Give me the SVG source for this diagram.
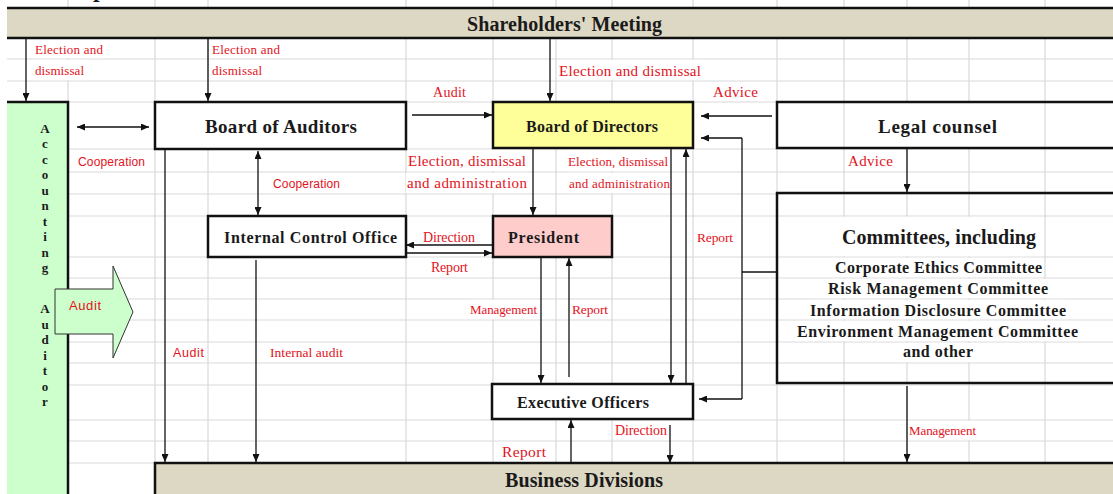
<svg xmlns="http://www.w3.org/2000/svg" width="1113" height="494" viewBox="0 0 1113 494">
  <style>
    .grid { stroke: #d9d9d9; stroke-width: 1.2; fill: none; }
    .cell { fill: #ffffff; }
    .box { stroke: #111111; stroke-width: 2.5; }
    .edge { stroke: #111111; stroke-width: 2.5; fill: none; }
    .node { font-family: "Liberation Serif", "DejaVu Serif", serif; font-weight: bold; fill: #1a1a1a; }
    .lbl { font-family: "Liberation Serif", "DejaVu Serif", serif; fill: #e3121c; }
    .lbls { font-family: "Liberation Sans", Arial, sans-serif; fill: #e3121c; }
    .conn { stroke: #111111; stroke-width: 1.3; fill: none; }
    .vert { font-family: "Liberation Serif", "DejaVu Serif", serif; font-weight: bold; font-size: 13px; fill: #1a1a1a; text-anchor: middle; }
  </style>
  <defs>
    <marker id="ah" markerUnits="userSpaceOnUse" markerWidth="8" markerHeight="7" refX="8" refY="3.5" orient="auto-start-reverse">
      <path d="M0,0 L8,3.5 L0,7 z" fill="#111111"/>
    </marker>
  </defs>

  <rect width="1113" height="494" fill="#ffffff"/>

  <!-- worksheet grid -->
  <path class="grid" d="M68,0V494 M155,0V494 M208,0V494 M406,0V494 M493,0V494 M556,0V494 M612,0V494 M693,0V494 M777,0V494 M844,0V494 M907,0V494 M969,0V494 M1045,0V494
    M7,59H1113 M7,81H1113 M7,102H1113 M7,149H1113 M7,172H1113 M7,194H1113 M7,216H1113 M7,257H1113 M7,278H1113 M7,299H1113 M7,320H1113 M7,342H1113 M7,363H1113 M7,385H1113 M7,420H1113 M7,441H1113 M7,463H1113"/>

  <!-- cells whose text runs over neighbouring cells hide the column lines -->
  <g class="cell">
    <rect x="34" y="38.8" width="70" height="19.4"/>
    <rect x="34" y="59.8" width="52" height="20.4"/>
    <rect x="558" y="59.8" width="144" height="20.4"/>
    <rect x="877" y="103" width="121" height="45"/>
    <rect x="407" y="149.8" width="121" height="21.4"/>
    <rect x="406" y="172.8" width="122" height="20.4"/>
    <rect x="567" y="149.8" width="103" height="21.4"/>
    <rect x="568" y="172.8" width="103" height="20.4"/>
    <rect x="841" y="216.8" width="196" height="39.4"/>
    <rect x="834" y="257.8" width="209" height="19.4"/>
    <rect x="827" y="278.8" width="222" height="19.4"/>
    <rect x="809" y="299.8" width="258" height="19.4"/>
    <rect x="796" y="320.8" width="283" height="20.4"/>
    <rect x="902" y="342.8" width="72" height="19.4"/>
    <rect x="469" y="299.8" width="69" height="19.4"/>
    <rect x="908" y="420.8" width="69" height="19.4"/>
  </g>

  <!-- title line cut off above the sheet -->
  <text class="node" x="93" y="-3" font-size="24">p</text>

  <!-- nodes -->
  <g id="shareholders-meeting">
    <rect x="7" y="8" width="1110" height="30" fill="#ddd8c4"/>
    <path class="edge" d="M7,8H1113 M7,38H1113"/>
    <text class="node" x="467" y="30.5" font-size="20" textLength="195">Shareholders' Meeting</text>
  </g>

  <g id="accounting-auditor">
    <rect x="7" y="102" width="61" height="392" fill="#ccffcc"/>
    <path class="edge" d="M7,102H68V494"/>
    <text class="vert" x="45" y="132.5">A</text>
    <text class="vert" x="45" y="148">c</text>
    <text class="vert" x="45" y="163.5">c</text>
    <text class="vert" x="45" y="179">o</text>
    <text class="vert" x="45" y="194.5">u</text>
    <text class="vert" x="45" y="210">n</text>
    <text class="vert" x="45" y="225.5">t</text>
    <text class="vert" x="45" y="241">i</text>
    <text class="vert" x="45" y="256.5">n</text>
    <text class="vert" x="45" y="272">g</text>
    <text class="vert" x="45" y="313">A</text>
    <text class="vert" x="45" y="328.5">u</text>
    <text class="vert" x="45" y="344">d</text>
    <text class="vert" x="45" y="359.5">i</text>
    <text class="vert" x="45" y="375">t</text>
    <text class="vert" x="45" y="390.5">o</text>
    <text class="vert" x="45" y="406">r</text>
  </g>

  <g id="audit-arrow">
    <polygon points="55,289 113,289 113,266 133,312 113,358 113,334 55,334" fill="#ccffcc" stroke="#333333" stroke-width="1"/>
    <text class="lbls" x="69" y="310" font-size="13" textLength="32">Audit</text>
  </g>

  <g id="board-of-auditors">
    <rect class="box" x="155" y="102" width="251" height="47" fill="#ffffff"/>
    <text class="node" x="205" y="133" font-size="19" textLength="152">Board of Auditors</text>
  </g>

  <g id="board-of-directors">
    <rect class="box" x="493" y="102" width="200" height="46" fill="#ffff99"/>
    <text class="node" x="526" y="132" font-size="16" textLength="132">Board of Directors</text>
  </g>

  <g id="legal-counsel">
    <rect class="box" x="777" y="102" width="340" height="46" fill="none"/>
    <text class="node" x="878" y="133" font-size="19" textLength="119">Legal counsel</text>
  </g>

  <g id="internal-control-office">
    <rect class="box" x="208" y="216" width="198" height="41" fill="#ffffff"/>
    <text class="node" x="224" y="242.5" font-size="16" textLength="173">Internal Control Office</text>
  </g>

  <g id="president">
    <rect class="box" x="493" y="216" width="119" height="41" fill="#ffcccc"/>
    <text class="node" x="508" y="242.5" font-size="16" textLength="71">President</text>
  </g>

  <g id="committees">
    <rect class="box" x="777" y="193" width="340" height="190" fill="none"/>
    <text class="node" x="842" y="244" font-size="20" textLength="194">Committees, including</text>
    <text class="node" x="835" y="273" font-size="16" textLength="207">Corporate Ethics Committee</text>
    <text class="node" x="828" y="294" font-size="16" textLength="220">Risk Management Committee</text>
    <text class="node" x="810" y="315.5" font-size="16" textLength="256">Information Disclosure Committee</text>
    <text class="node" x="797" y="337" font-size="16" textLength="281">Environment Management Committee</text>
    <text class="node" x="903" y="357" font-size="16" textLength="70">and other</text>
  </g>

  <g id="executive-officers">
    <rect class="box" x="492" y="384" width="201" height="35" fill="#ffffff"/>
    <text class="node" x="517" y="408" font-size="16" textLength="132">Executive Officers</text>
  </g>

  <g id="business-divisions">
    <rect class="box" x="155" y="463" width="962" height="36" fill="#ddd8c4"/>
    <text class="node" x="505" y="486.5" font-size="20" textLength="158">Business Divisions</text>
  </g>

  <!-- connectors -->
  <g id="connectors">
    <g class="conn">
      <line x1="26" y1="38" x2="26" y2="101" marker-end="url(#ah)"/>
      <line x1="208" y1="38" x2="208" y2="101" marker-end="url(#ah)"/>
      <line x1="550" y1="38" x2="550" y2="101" marker-end="url(#ah)"/>
      <line x1="77" y1="127" x2="149" y2="127" marker-start="url(#ah)" marker-end="url(#ah)"/>
      <line x1="412" y1="115" x2="492" y2="115" marker-end="url(#ah)"/>
      <line x1="772" y1="116" x2="701" y2="116" marker-end="url(#ah)"/>
      <path d="M777,272H742"/>
      <path d="M742,138V399"/>
      <line x1="742" y1="138" x2="701" y2="138" marker-end="url(#ah)"/>
      <line x1="742" y1="399" x2="699" y2="399" marker-end="url(#ah)"/>
      <line x1="907" y1="149" x2="907" y2="192" marker-end="url(#ah)"/>
      <line x1="165" y1="150" x2="165" y2="462" marker-end="url(#ah)"/>
      <line x1="258" y1="151" x2="258" y2="215" marker-start="url(#ah)" marker-end="url(#ah)"/>
      <line x1="256" y1="260" x2="256" y2="462" marker-end="url(#ah)"/>
      <line x1="533" y1="149" x2="533" y2="215" marker-end="url(#ah)"/>
      <line x1="671" y1="149" x2="671" y2="383" marker-end="url(#ah)"/>
      <line x1="686" y1="383" x2="686" y2="149" marker-end="url(#ah)"/>
      <line x1="493" y1="245" x2="406" y2="245" marker-end="url(#ah)"/>
      <line x1="406" y1="253" x2="492" y2="253" marker-end="url(#ah)"/>
      <line x1="541" y1="258" x2="541" y2="383" marker-end="url(#ah)"/>
      <line x1="569" y1="377" x2="569" y2="258" marker-end="url(#ah)"/>
      <line x1="571" y1="463" x2="571" y2="420" marker-end="url(#ah)"/>
      <line x1="670" y1="425" x2="670" y2="463" marker-end="url(#ah)"/>
      <line x1="907" y1="386" x2="907" y2="462" marker-end="url(#ah)"/>
    </g>

    <text class="lbl" x="35" y="54" font-size="13" textLength="68">Election and</text>
    <text class="lbl" x="35" y="75" font-size="13" textLength="49">dismissal</text>
    <text class="lbl" x="212" y="54" font-size="13" textLength="68">Election and</text>
    <text class="lbl" x="212" y="75" font-size="13" textLength="50">dismissal</text>
    <text class="lbl" x="559" y="76" font-size="15" textLength="142">Election and dismissal</text>
    <text class="lbl" x="433" y="96.5" font-size="14" textLength="33">Audit</text>
    <text class="lbl" x="713" y="97" font-size="15" textLength="45">Advice</text>
    <text class="lbls" x="78" y="165.5" font-size="12" textLength="67">Cooperation</text>
    <text class="lbl" x="408" y="165.5" font-size="15" textLength="118">Election, dismissal</text>
    <text class="lbl" x="407" y="188" font-size="15" textLength="120">and administration</text>
    <text class="lbl" x="568" y="165.5" font-size="13" textLength="100">Election, dismissal</text>
    <text class="lbl" x="569" y="188" font-size="13" textLength="101">and administration</text>
    <text class="lbl" x="848" y="165.5" font-size="15" textLength="45">Advice</text>
    <text class="lbls" x="273" y="188" font-size="12" textLength="67">Cooperation</text>
    <text class="lbl" x="423" y="241.5" font-size="14" textLength="52">Direction</text>
    <text class="lbl" x="431" y="272" font-size="14" textLength="37">Report</text>
    <text class="lbl" x="697" y="241.5" font-size="13.5" textLength="36">Report</text>
    <text class="lbl" x="470" y="314" font-size="13" textLength="67">Management</text>
    <text class="lbl" x="572" y="314" font-size="13.5" textLength="36">Report</text>
    <text class="lbls" x="173" y="356.5" font-size="12.5" textLength="31">Audit</text>
    <text class="lbl" x="270" y="356.5" font-size="13.5" textLength="73">Internal audit</text>
    <text class="lbl" x="615" y="435" font-size="14" textLength="52">Direction</text>
    <text class="lbl" x="502" y="457" font-size="15.5" textLength="44">Report</text>
    <text class="lbl" x="909" y="435" font-size="13" textLength="67">Management</text>
  </g>
</svg>
